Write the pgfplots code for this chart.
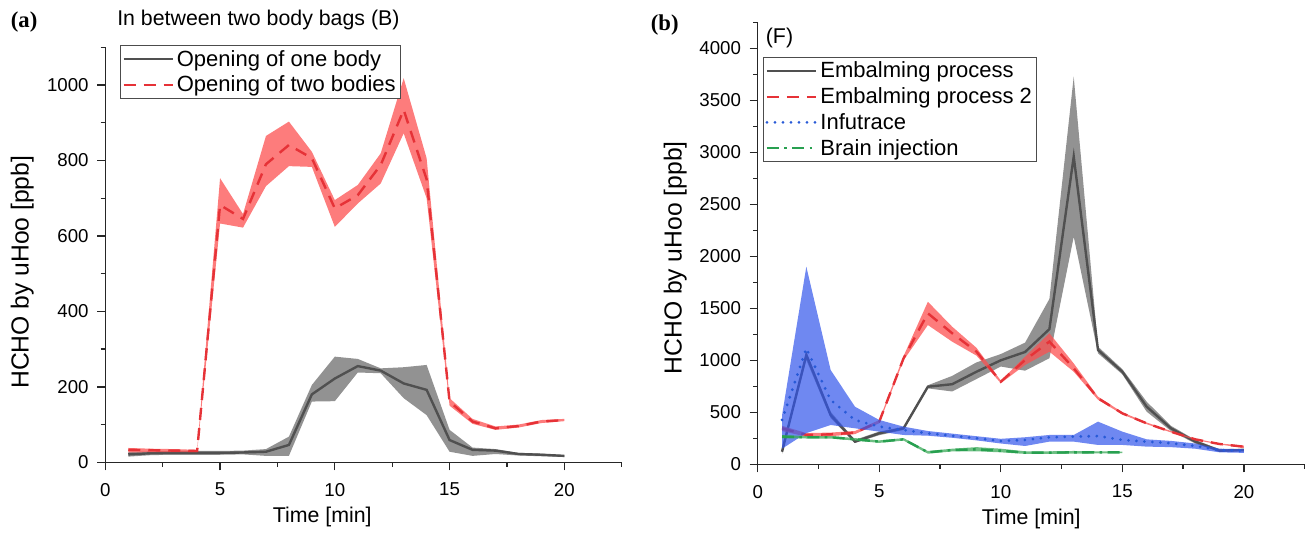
\documentclass[border=0pt]{standalone}
\usepackage{fontspec}
\setmainfont{Liberation Sans}
\newfontfamily\timesfont{Liberation Serif}
\usepackage{pgfplots}
\pgfplotsset{compat=1.18}
\definecolor{gline}{RGB}{80,80,80}
\definecolor{gband}{RGB}{110,110,110}
\definecolor{rline}{RGB}{230,50,55}
\definecolor{rband}{RGB}{252,80,80}
\definecolor{bline}{RGB}{40,90,215}
\definecolor{bband}{RGB}{50,85,235}
\definecolor{gnline}{RGB}{40,160,80}
\definecolor{gnband}{RGB}{60,170,90}
\pgfplotsset{
  orig/.style={
    scale only axis,
    axis x line*=bottom, axis y line*=left,
    axis line style={-, line width=1.1pt, black!85},
    tick align=outside,
    major tick length=6pt, minor tick length=3.5pt,
    every tick/.style={black!85, line width=1pt},
    tick label style={font=\fontsize{14}{16}\selectfont},
    xticklabel style={yshift=-6pt},
    yticklabel style={xshift=-3pt},
    /pgf/number format/assume math mode=true,
    /pgf/number format/set thousands separator={},
    xmin=0, xmax=22.5,
    xtick={0,5,10,15,20}, minor xtick={2.5,7.5,12.5,17.5,22.5},
    xlabel={Time [min]},
    ylabel={HCHO by uHoo [ppb]},
    xlabel style={font=\fontsize{16}{19}\selectfont, anchor=center},
    ylabel style={font=\fontsize{18.5}{21}\selectfont, anchor=center, rotate=0},
    legend cell align=left,
    legend style={font=\fontsize{16.5}{19.5}\selectfont, draw=black!70, line width=0.6pt, inner sep=1.5pt, row sep=1.8pt},
    legend image code/.code={\draw[#1] (0pt,0pt) -- (37pt,0pt);},
  },
}
\begin{document}
\begin{tikzpicture}
\path[use as bounding box] (0,0) rectangle (981.75pt,399pt);
% panel (a)
\begin{axis}[orig,
  at={(78.98pt,52.28pt)}, anchor=south west,
  width=387.3pt, height=311.25pt,
  ymin=0, ymax=1100,
  ytick={0,200,400,600,800,1000}, minor ytick={100,300,500,700,900,1100},
  xlabel style={at={(axis description cs:0.42,-0.132)}},
  ylabel style={at={(axis description cs:-0.161,0.458)}},
  legend style={at={(axis description cs:0.0285,1.005)}, anchor=north west},
]
\addplot[fill=gband, fill opacity=0.75, draw=none, forget plot] coordinates {
(1,27)(2,29)(3,30)(4,30)(5,30)(6,31)(7,35)(8,68)(9,205)(10,280)(11,274)(12,249)(13,252)(14,258)(15,86)(16,39)(17,35)(18,25)(19,23)(20,19)
(20,14)(19,16)(18,18)(17,22)(16,17)(15,28)(14,125)(13,170)(12,236)(11,238)(10,162)(9,161)(8,17)(7,17)(6,21)(5,20)(4,20)(3,20)(2,19)(1,15)};
\addplot[gline, line width=1.8pt] coordinates {
(1,21)(2,24)(3,25)(4,25)(5,25)(6,26)(7,28)(8,46)(9,180)(10,222)(11,255)(12,243)(13,209)(14,192)(15,59)(16,33)(17,31)(18,22)(19,20)(20,17)};
\addlegendentry{Opening of one body}
\addplot[fill=rband, fill opacity=0.75, draw=none, forget plot] coordinates {
(1,38)(2,36)(3,35)(4,33)(5,753)(6,658)(7,865)(8,903)(9,823)(10,695)(11,735)(12,819)(13,1018)(14,806)(15,170)(16,115)(17,95)(18,100)(19,112)(20,115)
(20,109)(19,104)(18,92)(17,86)(16,102)(15,150)(14,700)(13,872)(12,739)(11,686)(10,624)(9,783)(8,785)(7,732)(6,622)(5,633)(4,27)(3,27)(2,27)(1,26)};
\addplot[rline, line width=1.8pt, dash pattern=on 9pt off 6pt] coordinates {
(1,33)(2,32)(3,31)(4,30)(5,682)(6,645)(7,790)(8,841)(9,806)(10,673)(11,708)(12,788)(13,934)(14,750)(15,161)(16,108)(17,90)(18,96)(19,108)(20,112)};
\addlegendentry{Opening of two bodies}
\end{axis}
% panel (b)
\begin{axis}[orig,
  at={(568.28pt,50.78pt)}, anchor=south west,
  width=410.2pt, height=331.5pt,
  ymin=0, ymax=4250,
  ytick={0,500,1000,1500,2000,2500,3000,3500,4000},
  minor ytick={250,750,1250,1750,2250,2750,3250,3750,4250},
  xlabel style={at={(axis description cs:0.5,-0.124)}},
  ylabel style={at={(axis description cs:-0.151,0.467)}},
  legend style={at={(axis description cs:0.0097,0.9215)}, anchor=north west},
]
\addplot[fill=gband, fill opacity=0.75, draw=none, forget plot] coordinates {
(1,160)(2,1083)(3,505)(4,235)(5,315)(6,360)(7,760)(8,850)(9,980)(10,1060)(11,1170)(12,1590)(13,3727)(14,1131)(15,915)(16,602)(17,370)(18,235)(19,145)(20,150)
(20,125)(19,118)(18,200)(17,320)(16,506)(15,865)(14,1067)(13,2188)(12,1020)(11,900)(10,940)(9,820)(8,700)(7,730)(6,330)(5,280)(4,205)(3,445)(2,1003)(1,100)};
\addplot[gline, line width=1.8pt] coordinates {
(1,121)(2,1051)(3,474)(4,218)(5,298)(6,346)(7,746)(8,770)(9,890)(10,1000)(11,1080)(12,1300)(13,2958)(14,1099)(15,890)(16,554)(17,346)(18,218)(19,131)(20,137)};
\addlegendentry{Embalming process}
\addplot[fill=rband, fill opacity=0.75, draw=none, forget plot] coordinates {
(1,370)(2,300)(3,305)(4,320)(5,425)(6,1040)(7,1563)(8,1323)(9,1120)(10,805)(11,1035)(12,1260)(13,970)(14,650)(15,500)(16,402)(17,320)(18,246)(19,200)(20,180)
(20,158)(19,190)(18,234)(17,306)(16,386)(15,480)(14,620)(13,890)(12,1083)(11,955)(10,780)(9,1045)(8,1179)(7,1339)(6,1000)(5,395)(4,290)(3,270)(2,265)(1,320)};
\addplot[rline, line width=1.8pt, dash pattern=on 9pt off 6pt] coordinates {
(1,346)(2,282)(3,288)(4,304)(5,410)(6,1019)(7,1452)(8,1260)(9,1083)(10,794)(11,1003)(12,1180)(13,923)(14,635)(15,490)(16,394)(17,313)(18,240)(19,195)(20,169)};
\addlegendentry{Embalming process 2}
\addplot[fill=bband, fill opacity=0.7, draw=none, forget plot] coordinates {
(1,470)(2,1900)(3,907)(4,554)(5,426)(6,362)(7,320)(8,295)(9,270)(10,245)(11,260)(12,282)(13,282)(14,410)(15,314)(16,240)(17,225)(18,200)(19,150)(20,145)
(20,110)(19,115)(18,150)(17,165)(16,170)(15,186)(14,186)(13,218)(12,218)(11,176)(10,200)(9,230)(8,255)(7,275)(6,282)(5,314)(4,346)(3,378)(2,300)(1,150)};
\addplot[bline, line width=2.3pt, line cap=round, dash pattern=on 0pt off 6pt] coordinates {
(1,426)(2,1115)(3,618)(4,426)(5,362)(6,330)(7,298)(8,275)(9,250)(10,224)(11,234)(12,260)(13,266)(14,272)(15,234)(16,218)(17,202)(18,176)(19,137)(20,131)};
\addlegendentry{Infutrace}
\addplot[fill=gnband, fill opacity=0.75, draw=none, forget plot] coordinates {
(1,280)(2,272)(3,272)(4,252)(5,230)(6,252)(7,128)(8,150)(9,165)(10,150)(11,125)(12,125)(13,128)(14,125)(15,122)
(15,108)(14,105)(13,102)(12,100)(11,100)(10,115)(9,125)(8,124)(7,102)(6,228)(5,206)(4,228)(3,248)(2,248)(1,250)};
\addplot[gnline, line width=1.8pt, dash pattern=on 9pt off 4pt on 2pt off 4pt] coordinates {
(1,266)(2,260)(3,260)(4,240)(5,218)(6,240)(7,115)(8,137)(9,144)(10,131)(11,112)(12,112)(13,115)(14,115)(15,115)};
\addlegendentry{Brain injection}
\node[anchor=north west, font=\fontsize{16}{19}\selectfont, inner sep=1pt] at (axis description cs:0.012,0.99) {(F)};
\end{axis}
% titles and panel letters
\node[anchor=base west, font=\fontsize{16}{19}\selectfont, inner sep=0pt] at (87.75pt,380pt) {In between two body bags (B)};
\node[anchor=base west, font=\timesfont\bfseries\fontsize{17}{20}\selectfont, inner sep=0pt] at (8pt,378pt) {(a)};
\node[anchor=base west, font=\timesfont\bfseries\fontsize{17}{20}\selectfont, inner sep=0pt] at (488pt,376pt) {(b)};
\end{tikzpicture}
\end{document}
